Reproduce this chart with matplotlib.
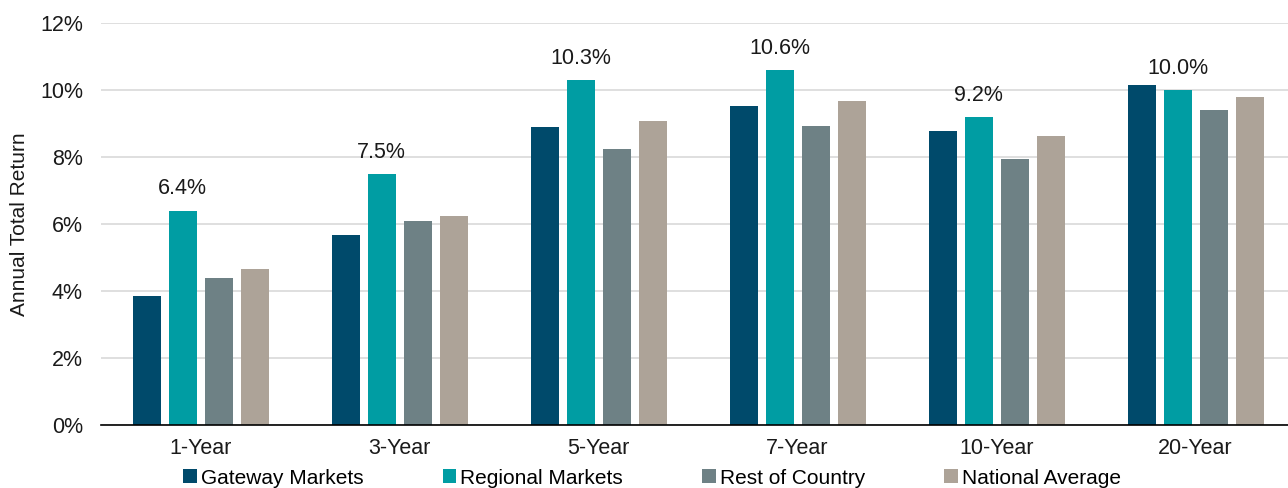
import matplotlib
matplotlib.use("Agg")
import matplotlib.pyplot as plt
import numpy as np
from matplotlib.patches import Patch

plt.rcParams['font.family'] = ['Liberation Sans', 'DejaVu Sans']

categories = ["1-Year", "3-Year", "5-Year", "7-Year", "10-Year", "20-Year"]
series_names = ["Gateway Markets", "Regional Markets", "Rest of Country", "National Average"]
gateway = [3.86, 5.68, 8.9, 9.53, 8.79, 10.15]
regional = [6.4, 7.5, 10.3, 10.6, 9.2, 10.0]
rest = [4.38, 6.09, 8.25, 8.93, 7.93, 9.40]
national = [4.67, 6.25, 9.07, 9.67, 8.63, 9.78]
colors = ["#004A6B", "#009DA3", "#6E8185", "#ADA398"]
yticks = [0, 2, 4, 6, 8, 10, 12]

FS = 15.5
W, H = 1288, 488
fig = plt.figure(figsize=(W / 100, H / 100), dpi=100)
ax = fig.add_axes([101 / W, 63 / H, 1194 / W, 402 / H])

x = np.arange(len(categories))
pitch = 36 / 199
bw = 28 / 199
all_series = [gateway, regional, rest, national]
for i, (vals, c, name) in enumerate(zip(all_series, colors, series_names)):
    offs = (i - 1.5) * pitch
    ax.bar(x + offs, vals, width=bw, color=c, label=name, zorder=3)
    if i == 1:
        for xi, v in zip(x + offs, vals):
            ax.annotate(f"{v:.1f}%", (xi, v), xytext=(0, 8), textcoords="offset points",
                        ha="center", va="bottom", fontsize=FS, color="#1a1a1a")

ax.set_xlim(-0.5, len(categories) - 0.5)
ax.set_ylim(0, 12)
ax.set_yticks(yticks)
ax.set_yticklabels([f"{t}%" for t in yticks], fontsize=FS, color="#1a1a1a")
ax.set_xticks(x)
ax.set_xticklabels(categories, fontsize=FS, color="#1a1a1a")
ax.tick_params(axis="both", length=0)
ax.tick_params(axis="y", pad=13)
ax.tick_params(axis="x", pad=9)
ax.grid(axis="y", color="#D9D9D9", linewidth=1.2, zorder=0)
for s in ["top", "right", "left"]:
    ax.spines[s].set_visible(False)
ax.spines["bottom"].set_color("black")
ax.spines["bottom"].set_linewidth(1.2)
ax.spines["bottom"].set_zorder(4)
ax.set_ylabel("Annual Total Return", fontsize=FS - 0.5, color="#1a1a1a", labelpad=8)

handles = [Patch(facecolor=c) for c in colors]
fig.legend(handles, series_names, loc="center", bbox_to_anchor=(652 / W, 1 - 478 / H),
           ncol=4, frameon=False, fontsize=15, handlelength=0.65, handleheight=0.65,
           handletextpad=0.2, columnspacing=3.8, borderpad=0, borderaxespad=0)

fig.savefig("out.png", dpi=100)
